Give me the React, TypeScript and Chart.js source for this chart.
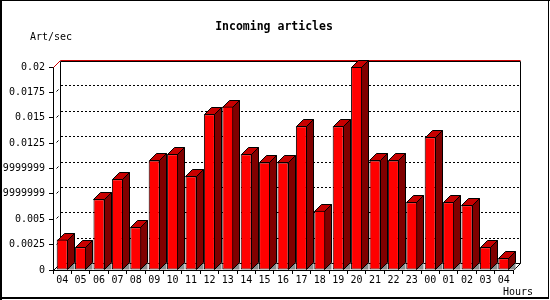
import React, { useEffect, useRef } from "react";
import { Chart, registerables } from "chart.js";

Chart.register(...registerables);

const hours = ["04","05","06","07","08","09","10","11","12","13","14","15","16","17","18","19","20","21","22","23","00","01","02","03","04"];
const artPerSec = [0.0030,0.00224,0.00697,0.00893,0.0042,0.0108,0.0114,0.00923,0.01534,0.0161,0.0114,0.0106,0.0106,0.01416,0.00584,0.01416,0.0200,0.0108,0.0108,0.00667,0.01307,0.00667,0.00637,0.00224,0.00115];
const yTickValues = [0,0.0025,0.005,0.0075,0.01,0.0125,0.015,0.0175,0.02];
const yTickLabels = ["0","0.0025","0.005","0.00749999999999","0.00999999999999","0.0125","0.015","0.0175","0.02"];
const titleText = "Incoming articles";
const yAxisTitle = "Art/sec";
const xAxisTitle = "Hours";

const D = 7;
const MONO = "'DejaVu Sans Mono', monospace";

const threeD = {
  id: "threeD",
  beforeDatasetsDraw(chart: any) {
    const ctx = chart.ctx;
    const a = chart.chartArea;
    const ys = chart.scales.y;
    ctx.save();
    // back wall
    ctx.fillStyle = "#ffffff";
    ctx.fillRect(a.left + D, a.top - D, a.right - a.left, a.bottom - a.top);
    ctx.lineWidth = 1;
    // dotted grid lines on back wall
    ctx.strokeStyle = "#000000";
    ctx.setLineDash([2, 2]);
    for (const v of yTickValues) {
      if (v === 0 || v === yTickValues[yTickValues.length - 1]) continue;
      const y = Math.round(ys.getPixelForValue(v)) - D + 0.5;
      ctx.beginPath();
      ctx.moveTo(a.left + D + 1, y);
      ctx.lineTo(a.right + D, y);
      ctx.stroke();
    }
    ctx.setLineDash([]);
    const L = Math.round(a.left) + 0.5;
    const R = Math.round(a.right) + 0.5;
    const T = Math.round(a.top) + 0.5;
    const B = Math.round(a.bottom) + 0.5;
    // back wall border
    ctx.strokeStyle = "#000000";
    ctx.beginPath();
    ctx.moveTo(L + D, B - D);
    ctx.lineTo(L + D, T - D + 1);
    ctx.lineTo(R + D, T - D + 1);
    ctx.lineTo(R + D, B - D);
    ctx.lineTo(L + D, B - D);
    ctx.stroke();
    // floor / left wall diagonals
    ctx.beginPath();
    ctx.moveTo(L, B);
    ctx.lineTo(L + D, B - D);
    ctx.moveTo(R, B);
    ctx.lineTo(R + D, B - D);
    ctx.stroke();
    // red top edge
    ctx.strokeStyle = "#cc0000";
    ctx.beginPath();
    ctx.moveTo(L, T);
    ctx.lineTo(L + D, T - D);
    ctx.lineTo(R + D, T - D);
    ctx.stroke();
    // small diagonal ticks on left wall
    ctx.strokeStyle = "#000000";
    for (const v of yTickValues) {
      if (v === 0 || v === yTickValues[yTickValues.length - 1]) continue;
      const y = Math.round(ys.getPixelForValue(v)) + 0.5;
      ctx.beginPath();
      ctx.moveTo(L + 3, y - 1);
      ctx.lineTo(L + 5, y - 3);
      ctx.stroke();
    }
    // bars: side, top, shadow
    const meta = chart.getDatasetMeta(0);
    meta.data.forEach((el: any) => {
      const p = el.getProps(["x", "y", "base", "width"], true);
      const bl = Math.round(p.x - p.width / 2) + 0.5;
      const br = Math.round(p.x + p.width / 2) - 0.5;
      const bt = Math.round(p.y) + 0.5;
      const bb = Math.round(p.base) - 0.5;
      // shadow
      ctx.fillStyle = "#8c8c8c";
      ctx.beginPath();
      ctx.moveTo(br, bb);
      ctx.lineTo(br + D, bb - D);
      ctx.lineTo(br + D, bb);
      ctx.closePath();
      ctx.fill();
      // side
      ctx.fillStyle = "#800000";
      ctx.strokeStyle = "#000000";
      ctx.beginPath();
      ctx.moveTo(br, bt);
      ctx.lineTo(br + D, bt - D);
      ctx.lineTo(br + D, bb - D);
      ctx.lineTo(br, bb);
      ctx.closePath();
      ctx.fill();
      ctx.stroke();
      // top
      ctx.fillStyle = "#c80000";
      ctx.beginPath();
      ctx.moveTo(bl, bt);
      ctx.lineTo(bl + D, bt - D);
      ctx.lineTo(br + D, bt - D);
      ctx.lineTo(br, bt);
      ctx.closePath();
      ctx.fill();
      ctx.stroke();
    });
    ctx.restore();
  },
  afterDraw(chart: any) {
    const ctx = chart.ctx;
    ctx.save();
    ctx.fillStyle = "#000000";
    ctx.textBaseline = "middle";
    ctx.textAlign = "center";
    ctx.font = "bold 11.5px " + MONO;
    ctx.fillText(titleText, 274, 27);
    ctx.font = "10px " + MONO;
    ctx.textAlign = "left";
    ctx.fillText(yAxisTitle, 30, 37);
    ctx.fillText(xAxisTitle, 503, 292);
    // image frame
    ctx.fillRect(0, 0, 2, 300);
    ctx.fillRect(0, 0, 550, 1);
    ctx.fillRect(548, 0, 1, 299);
    ctx.fillRect(0, 297, 549, 2);
    ctx.restore();
  },
};

export default function App() {
  const ref = useRef<HTMLCanvasElement | null>(null);
  useEffect(() => {
    if (!ref.current) return;
    const chart = new Chart(ref.current, {
      type: "bar",
      data: {
        labels: hours,
        datasets: [
          {
            data: artPerSec,
            backgroundColor: "#ff0000",
            borderColor: "#000000",
            borderWidth: 1,
            borderSkipped: false,
            barPercentage: 0.6,
            categoryPercentage: 1,
            clip: false as any,
          },
        ],
      },
      options: {
        responsive: false,
        animation: false,
        devicePixelRatio: 1,
        layout: { padding: { left: 0, right: 37, top: 67, bottom: 0 } },
        plugins: {
          legend: { display: false },
          tooltip: { enabled: false },
          title: { display: false },
        },
        scales: {
          x: {
            type: "category",
            offset: true,
            grid: {
              offset: true,
              drawOnChartArea: false,
              drawTicks: true,
              tickLength: 4,
              color: "#000000",
            },
            border: { display: true, color: "#000000", width: 1 },
            ticks: {
              color: "#000000",
              font: { family: MONO, size: 10 },
              padding: 0,
              maxRotation: 0,
              autoSkip: false,
            },
            afterFit(scale: any) {
              scale.height = 30;
            },
          },
          y: {
            min: 0,
            max: 0.02,
            grid: {
              drawOnChartArea: false,
              drawTicks: true,
              tickLength: 4,
              color: "#000000",
            },
            border: { display: true, color: "#000000", width: 1 },
            ticks: {
              color: "#000000",
              font: { family: MONO, size: 10 },
              padding: 4,
              callback: (_v: any, i: number) => yTickLabels[i],
            },
            afterBuildTicks(scale: any) {
              scale.ticks = yTickValues.map((v) => ({ value: v }));
            },
            afterFit(scale: any) {
              scale.width = 53;
            },
          },
        },
      },
      plugins: [threeD],
    });
    return () => chart.destroy();
  }, []);
  return (
    <div style={{ position: "fixed", left: 0, top: 0, width: 550, height: 300, background: "#ffffff" }}>
      <canvas ref={ref} width={550} height={300} style={{ display: "block" }} />
    </div>
  );
}
